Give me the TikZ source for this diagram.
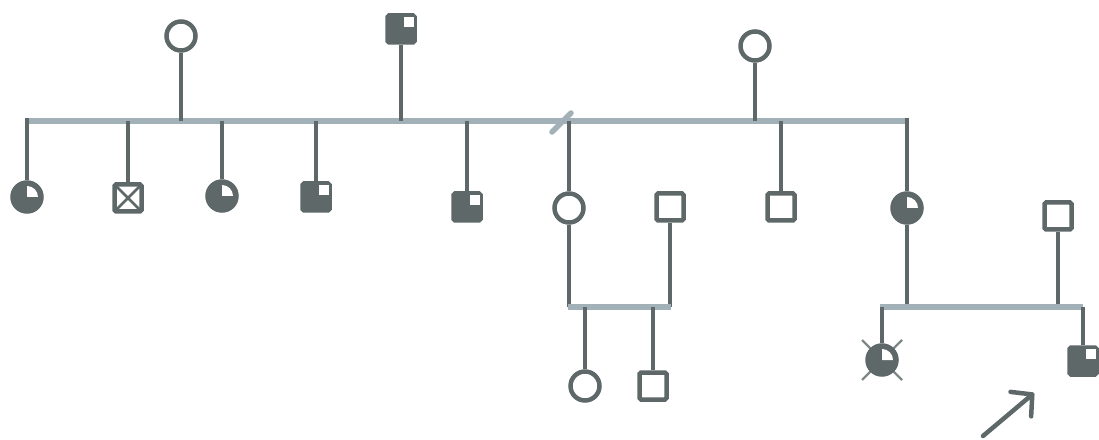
\documentclass[tikz,border=0pt]{standalone}
\usetikzlibrary{arrows.meta,backgrounds}
\definecolor{dk}{HTML}{5E6868}
\definecolor{lt}{HTML}{A2B0B7}
\definecolor{xg}{HTML}{7F8989}
\tikzset{
  x=1pt,y=1pt,
  male/.style={draw=dk, line width=4.5pt, minimum size=27pt, inner sep=0pt, rounded corners=1.5pt, fill=white},
  female/.style={circle, draw=dk, line width=4.5pt, minimum size=29pt, inner sep=0pt, fill=white},
  aff/.style={fill=dk},
  vline/.style={draw=dk, line width=4.5pt},
  hline/.style={draw=lt, line width=5.5pt},
  xline/.style={draw=dk, line width=2.5pt},
  dline/.style={draw=xg, line width=2.2pt},
  arrowline/.style={draw=dk, line width=4.5pt, line cap=round, -{Straight Barb[length=15pt,width=32pt,round]}},
}
\newcommand{\quarterwhite}[1]{\fill[white] (#1.center) -- ++(0,11) arc[start angle=90,end angle=0,radius=11] -- cycle;}
\newcommand{\smallwhite}[1]{\fill[white] ([shift={(-3,-4)}]#1.north east) rectangle ++(-10,-10);}
\begin{document}
\begin{tikzpicture}
\useasboundingbox (0,0) rectangle (1099,439);
% generation I
\node[female] (gm1) at (181,403) {};
\node[male,aff] (gf) at (401,410) {};
\node[female] (gm2) at (755,393) {};
\coordinate (mL) at (25,318);
\coordinate (mR) at (907,318);
% generation II
\node[female,aff] (c1) at (27,242) {};
\node[male] (c2) at (128,241) {};
\node[female,aff] (c3) at (222,243) {};
\node[male,aff] (c4) at (316,242) {};
\node[male,aff] (c5) at (467,232) {};
\node[female] (c6) at (569,231) {};
\node[male] (sp1) at (670,232) {};
\node[male] (c7) at (781,232) {};
\node[female,aff] (c8) at (907,231) {};
\node[male] (sp2) at (1058,223) {};
\coordinate (cpA) at (569,132);
\coordinate (cpB) at (880,132);
\coordinate (cpC) at (1083,132);
% generation III
\node[female] (g1) at (585,53) {};
\node[male] (g2) at (653,53) {};
\node[female,aff] (g3) at (882,79) {};
\node[male,aff] (g4) at (1083,78) {};
% slash marker
\coordinate (s1) at (552,307);
\coordinate (s2) at (571,326);
% arrow
\coordinate (a0) at (983,3);
\coordinate (a1) at (1034,46);

\begin{scope}[on background layer]
  \draw[hline] (mL) -- (mR);
  \draw[hline, line cap=round] (s1) -- (s2);
  \draw[vline] (gm1) -- (gm1 |- mL);
  \draw[vline] (gf) -- (gf |- mL);
  \draw[vline] (gm2) -- (gm2 |- mL);
  \draw[vline] ([yshift=2.5pt]c1 |- mL) -- (c1);
  \draw[vline] (c2 |- mL) -- (c2);
  \draw[vline] (c3 |- mL) -- (c3);
  \draw[vline] (c4 |- mL) -- (c4);
  \draw[vline] (c5 |- mL) -- (c5);
  \draw[vline] (c6 |- mL) -- (c6);
  \draw[vline] (c7 |- mL) -- (c7);
  \draw[vline] ([yshift=2.5pt]c8 |- mL) -- (c8);
  \draw[vline] (c6) -- (c6 |- cpA);
  \draw[vline] (sp1) -- (sp1 |- cpA);
  \draw[hline] ([xshift=-1pt]c6 |- cpA) -- ([xshift=1pt]sp1 |- cpA);
  \draw[vline] (g1 |- cpA) -- (g1);
  \draw[vline] (g2 |- cpA) -- (g2);
  \draw[vline] (c8) -- (c8 |- cpB);
  \draw[vline] (sp2) -- (sp2 |- cpB);
  \draw[hline] (cpB) -- (cpC);
  \draw[vline] (g3 |- cpB) -- (g3);
  \draw[vline] (g4 |- cpB) -- (g4);
  \draw[dline] ([shift={(-20,20)}]g3.center) -- ([shift={(20,-20)}]g3.center);
  \draw[dline] ([shift={(20,20)}]g3.center) -- ([shift={(-20,-20)}]g3.center);
\end{scope}

\quarterwhite{c1}
\quarterwhite{c3}
\quarterwhite{c8}
\quarterwhite{g3}
\smallwhite{gf}
\smallwhite{c4}
\smallwhite{c5}
\smallwhite{g4}
\draw[xline] ([shift={(2,2)}]c2.south west) -- ([shift={(-2,-2)}]c2.north east);
\draw[xline] ([shift={(2,-2)}]c2.north west) -- ([shift={(-2,2)}]c2.south east);
\draw[arrowline] (a0) -- (a1);
\end{tikzpicture}
\end{document}
